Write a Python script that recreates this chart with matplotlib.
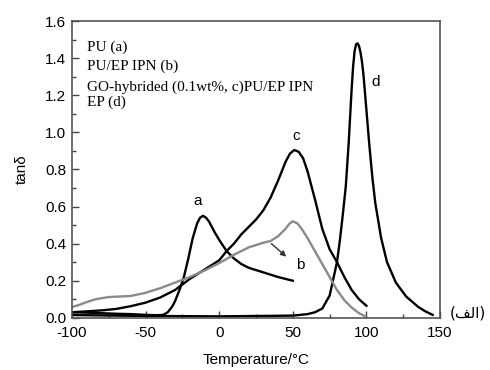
import matplotlib.pyplot as plt
from matplotlib.ticker import MultipleLocator

# PU (a)
temp_a = [-100, -90, -80, -70, -60, -50, -42, -38, -35, -32, -30, -27, -24, -21, -18, -15,
          -13, -11, -9, -7, -3, 0, 5, 10, 15, 20, 30, 40, 50]
tan_a = [0.03, 0.028, 0.025, 0.022, 0.02, 0.016, 0.014, 0.016, 0.03, 0.06, 0.09, 0.15, 0.22,
         0.32, 0.43, 0.51, 0.54, 0.55, 0.54, 0.52, 0.46, 0.42, 0.36, 0.32, 0.29, 0.27, 0.245,
         0.22, 0.20]

# PU/EP IPN (b)
temp_b = [-100, -95, -90, -85, -80, -75, -70, -60, -50, -40, -30, -20, -10, 0, 10, 20, 30, 35,
          40, 45, 48, 50, 53, 56, 60, 65, 70, 75, 80, 85, 90, 95, 100]
tan_b = [0.058, 0.07, 0.085, 0.098, 0.106, 0.112, 0.114, 0.118, 0.135, 0.16, 0.19, 0.22, 0.255,
         0.295, 0.34, 0.38, 0.405, 0.415, 0.44, 0.48, 0.51, 0.52, 0.51, 0.48, 0.43, 0.36, 0.29,
         0.22, 0.15, 0.095, 0.055, 0.025, 0.005]

# GO-hybrided PU/EP IPN (c)
temp_c = [-100, -90, -80, -70, -60, -50, -40, -30, -25, -20, -10, 0, 5, 10, 15, 20, 25, 30, 35,
          40, 45, 48, 51, 54, 57, 60, 65, 70, 75, 80, 85, 90, 95, 100]
tan_c = [0.03, 0.035, 0.04, 0.048, 0.063, 0.082, 0.11, 0.15, 0.18, 0.21, 0.26, 0.31, 0.36, 0.40,
         0.45, 0.49, 0.53, 0.58, 0.65, 0.74, 0.84, 0.885, 0.905, 0.895, 0.86, 0.79, 0.64, 0.48,
         0.37, 0.30, 0.22, 0.15, 0.10, 0.065]

# EP (d)
temp_d = [-100, -50, 0, 50, 60, 65, 70, 75, 80, 82, 84, 86, 88, 90, 91, 92, 93, 94, 95, 96, 97,
          98, 100, 102, 104, 106, 110, 114, 120, 127, 135, 140, 145]
tan_d = [0.015, 0.01, 0.008, 0.012, 0.02, 0.03, 0.05, 0.12, 0.30, 0.42, 0.56, 0.71, 0.95, 1.24,
         1.36, 1.44, 1.475, 1.48, 1.465, 1.43, 1.38, 1.31, 1.12, 0.93, 0.76, 0.62, 0.43, 0.30,
         0.19, 0.115, 0.06, 0.035, 0.016]

legend_lines = ["PU (a)", "PU/EP IPN (b)", "GO-hybrided (0.1wt%, c)PU/EP IPN", "EP (d)"]

plt.rcParams['font.family'] = ['Liberation Sans', 'DejaVu Sans']
plt.rcParams['axes.unicode_minus'] = False

fig = plt.figure(figsize=(4.9, 3.7), dpi=100)
ax = fig.add_axes([0.147, 0.141, 0.751, 0.802])

ax.plot(temp_a, tan_a, color='black', lw=1.7)
ax.plot(temp_c, tan_c, color='black', lw=1.7)
ax.plot(temp_d, tan_d, color='black', lw=1.7)
ax.plot(temp_b, tan_b, color='#8a8a8a', lw=1.7)

ax.set_xlim(-100, 150)
ax.set_ylim(0, 1.6)
ax.xaxis.set_major_locator(MultipleLocator(50))
ax.xaxis.set_minor_locator(MultipleLocator(25))
ax.yaxis.set_major_locator(MultipleLocator(0.2))
ax.yaxis.set_minor_locator(MultipleLocator(0.1))
ax.yaxis.set_major_formatter(plt.FuncFormatter(lambda v, p: f"{v:.1f}"))
ax.tick_params(which='both', direction='in', labelsize=11, color='#444444')
ax.tick_params(which='major', length=5, width=1)
ax.tick_params(which='minor', length=3, width=1)
ax.tick_params(axis='x', pad=6)
ax.tick_params(axis='y', pad=4)
for s in ax.spines.values():
    s.set_color('#555555')
    s.set_linewidth(1.2)

ax.set_xlabel("Temperature/°C", fontsize=11, labelpad=9)
ax.set_ylabel("tanδ", fontsize=11, labelpad=12)

# legend text block
legend_y = [1.46, 1.355, 1.245, 1.16]
for txt, yy in zip(legend_lines, legend_y):
    ax.text(-90, yy, txt, family='Liberation Serif', fontsize=11, va='center', ha='left')

# curve labels
ax.text(-15, 0.63, "a", fontsize=11, ha='center', va='center')
ax.text(52, 0.98, "c", fontsize=11, ha='center', va='center')
ax.text(106.5, 1.27, "d", fontsize=11, ha='center', va='center')
ax.text(52, 0.285, "b", fontsize=11, ha='left', va='center')
ax.annotate("", xy=(47, 0.32), xytext=(34, 0.41),
            arrowprops=dict(arrowstyle='-|>', color='#333333', lw=1, mutation_scale=8))

# (الف) in visual order with presentation forms
fig.text(0.955, 0.155, "(\ufed2\ufedf\ufe8d)", fontsize=11, ha='center', va='center',
         family='DejaVu Sans')

fig.savefig("out.png", dpi=100)
